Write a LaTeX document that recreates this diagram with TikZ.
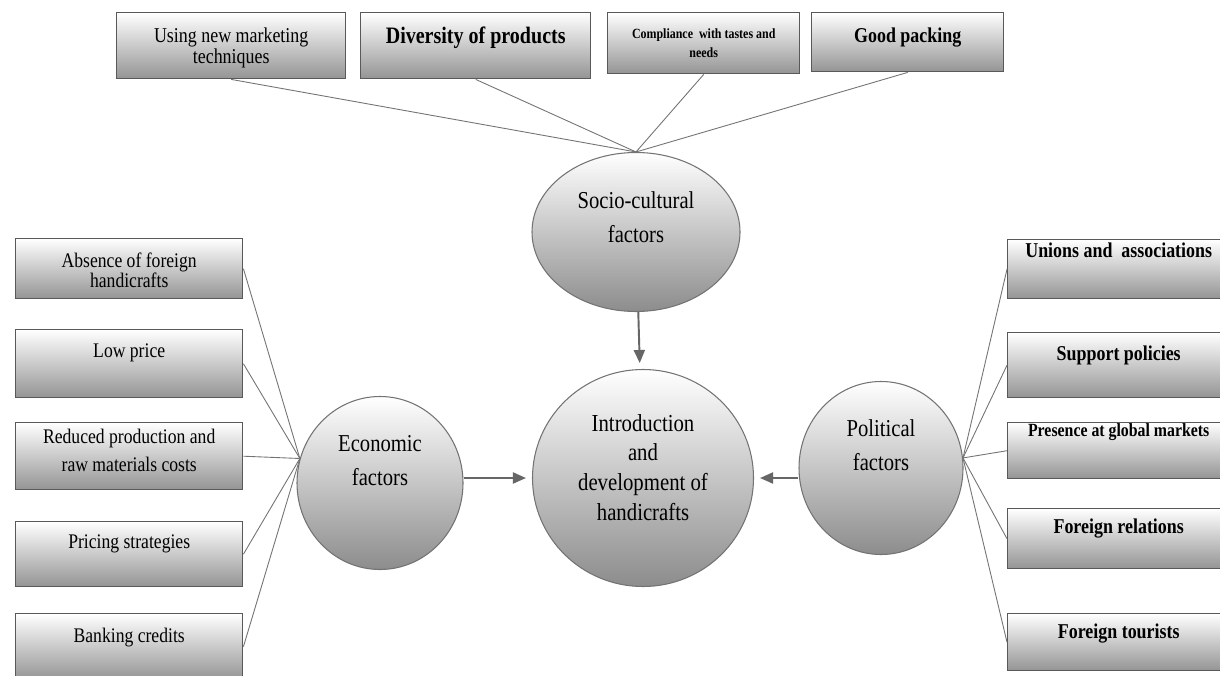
\documentclass[tikz,border=0pt]{standalone}
\usepackage{fontspec}
\setmainfont{Liberation Serif}[FakeStretch=0.85]
\usetikzlibrary{arrows.meta,shapes.geometric}

\newcommand\ringfont{\fontsize{13.8}{19}\selectfont}
\newcommand\corefont{\fontsize{13.9}{16.8}\selectfont}
\newcommand\econfont{\fontsize{11.8}{14}\selectfont}
\newcommand\polfont{\bfseries\fontsize{12}{14}\selectfont}

% text height/depth are taken from the last line, so they place the text inside each shape
\tikzset{
  factor/.style={ellipse, draw=black!55, line width=0.6pt, top color=white, bottom color=black!45,
    inner sep=0pt, align=center},
  item/.style={draw=black!65, line width=0.8pt, top color=white, bottom color=black!42,
    inner sep=0pt, align=center, anchor=north west},
  socitem/.style={item, minimum width=45.8mm},
  econitem/.style={item, minimum width=45.4mm, font=\econfont},
  politem/.style={item, minimum width=44.4mm, font=\polfont},
  link/.style={draw=black!55, line width=0.5pt},
  flow/.style={draw=black!60, line width=1.1pt, -{Triangle[length=2.6mm,width=2.2mm]}, shorten >=1.2mm},
}

\begin{document}
\begin{tikzpicture}[x=0.2mm, y=-0.2mm]
\useasboundingbox[fill=white] (0,0) rectangle (1220,675);

% the four factor groups and the centre
\node[factor, minimum width=44.2mm, minimum height=43.4mm, text height=20mm, text depth=3.2mm, font=\corefont] (core) at (643,478)
  {Introduction\\and\\development of\\handicrafts};
\node[factor, minimum width=41.6mm, minimum height=31.8mm, text height=12mm, text depth=8mm, font=\ringfont] (soc) at (636,232)
  {Socio-cultural\\factors};
\node[factor, minimum width=33.2mm, minimum height=34.6mm, text height=8mm, text depth=7.2mm, font=\ringfont] (econ) at (380,483)
  {Economic\\factors};
\node[factor, minimum width=32.8mm, minimum height=34.6mm, text height=8mm, text depth=7.2mm, font=\ringfont] (pol) at (881,468)
  {Political\\factors};

% socio-cultural items
\node[socitem, text height=10.2mm, text depth=3mm, font=\fontsize{12}{12}\selectfont] (sc1) at (116,12)
  {Using new marketing\\techniques};
\node[socitem, minimum width=46mm, text height=6.2mm, text depth=7mm, font=\bfseries\fontsize{13.4}{16}\selectfont] (sc2) at (360,12)
  {Diversity of products};
\node[socitem, minimum width=38.4mm, text height=9mm, text depth=3.2mm, font=\bfseries\fontsize{8}{10.8}\selectfont] (sc3) at (607,12)
  {Compliance\ \ with tastes and\\needs};
\node[socitem, minimum width=38.4mm, text height=6mm, text depth=5.8mm, font=\bfseries\fontsize{12}{14}\selectfont] (sc4) at (811,12)
  {Good packing};

% economic items
\node[econitem, text height=9.8mm, text depth=2.2mm, font=\fontsize{11.8}{11.4}\selectfont] (ec1) at (15,238)
  {Absence of foreign\\handicrafts};
\node[econitem, text height=5.6mm, text depth=8mm] (ec2) at (15,329) {Low price};
\node[econitem, text height=9.8mm, text depth=3.6mm, font=\fontsize{11.8}{16}\selectfont] (ec3) at (15,422)
  {Reduced production and\\raw materials costs};
\node[econitem, text height=5.4mm, text depth=7.6mm] (ec4) at (15,521) {Pricing strategies};
\node[econitem, text height=5.8mm, text depth=7.4mm] (ec5) at (15,613) {Banking credits};

% political items
\node[politem, text height=3.6mm, text depth=8.2mm] (po1) at (1007,239) {Unions and\ \ associations};
\node[politem, text height=5.6mm, text depth=7.4mm] (po2) at (1007,332) {Support policies};
\node[politem, text height=2.8mm, text depth=8.4mm, font=\bfseries\fontsize{10.6}{13}\selectfont] (po3) at (1007,422)
  {Presence at global markets};
\node[politem, text height=5mm, text depth=7mm] (po4) at (1007,508) {Foreign relations};
\node[politem, text height=5mm, text depth=6.4mm] (po5) at (1007,613) {Foreign tourists};

% links to the groups
\foreach \i in {1,...,4}
  \draw[link] (sc\i.south) -- (soc.north);
\foreach \i in {1,...,5}
  \draw[link] (ec\i.east) -- (econ.163);
\foreach \i in {1,...,5}
  \draw[link] (po\i.west) -- (pol.7);

% arrows into the centre
\draw[flow] (soc) -- (core);
\draw[flow] (econ.east |- core) -- (core);
\draw[flow] (pol.west |- core) -- (core);
\end{tikzpicture}
\end{document}
